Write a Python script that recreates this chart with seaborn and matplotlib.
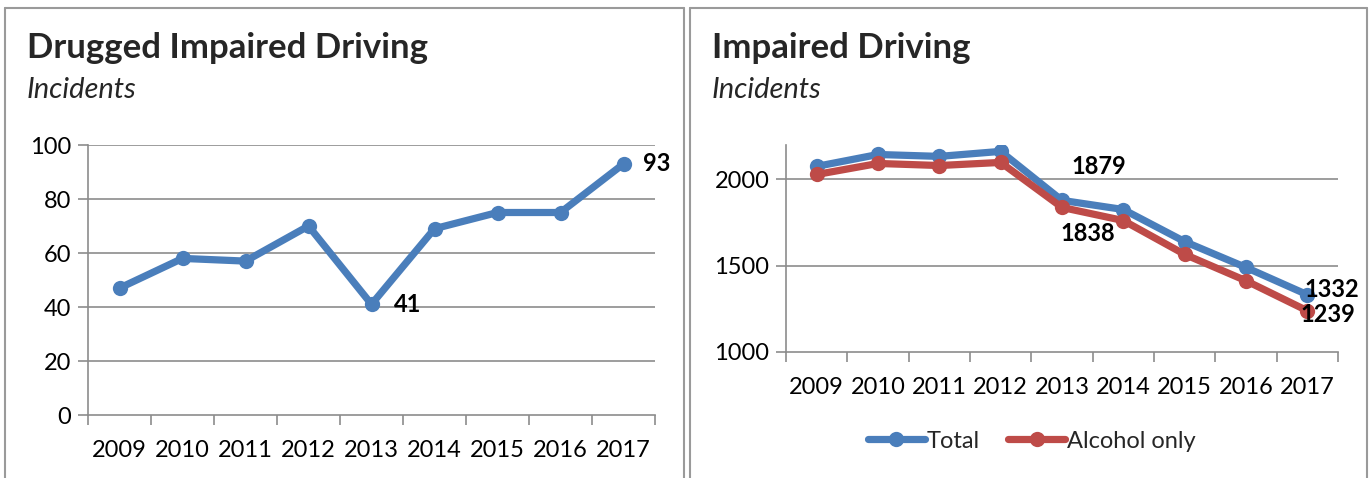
import matplotlib
matplotlib.use("Agg")
import matplotlib.pyplot as plt
import seaborn as sns
import pandas as pd
from matplotlib.lines import Line2D
from matplotlib.ticker import FixedLocator, NullFormatter

years = ["2009", "2010", "2011", "2012", "2013", "2014", "2015", "2016", "2017"]
drugged = [47, 58, 57, 70, 41, 69, 75, 75, 93]
total = [2076, 2145, 2134, 2163, 1879, 1826, 1640, 1490, 1332]
alcohol_only = [2029, 2093, 2081, 2099, 1838, 1762, 1566, 1413, 1239]

BLUE = "#4A7EBB"
RED = "#BE4B48"
GRID = "#8c8c8c"
FONT = ["Lato", "DejaVu Sans"]
TICK_FS = 17
LABEL_FS = 17

sns.set_theme(style="white")
plt.rcParams["font.family"] = FONT

W, H = 1371, 478
fig = plt.figure(figsize=(W / 100, H / 100), dpi=100)


def fx(px):
    return px / W


def fy(py):
    return 1 - py / H


# panel frames
for x0, x1 in [(5, 684), (690, 1367)]:
    for seg in [([x0, x0], [8, H + 5]), ([x1, x1], [8, H + 5]), ([x0, x1], [8, 8])]:
        fig.add_artist(Line2D([fx(v) for v in seg[0]], [fy(v) for v in seg[1]],
                              color="#9a9a9a", lw=1.5))

ax1 = fig.add_axes([fx(88), fy(415), fx(655) - fx(88), fy(145) - fy(415)])
ax2 = fig.add_axes([fx(786), fy(352), fx(1338) - fx(786), fy(145) - fy(352)])

df1 = pd.DataFrame({"Year": years, "Incidents": drugged})
df2 = pd.DataFrame({
    "Year": years * 2,
    "Incidents": total + alcohol_only,
    "Series": ["Total"] * len(years) + ["Alcohol only"] * len(years),
})

sns.lineplot(data=df1, x="Year", y="Incidents", ax=ax1, color=BLUE, lw=5.2,
             marker="o", markersize=11, markeredgewidth=0, sort=False)
sns.lineplot(data=df2, x="Year", y="Incidents", hue="Series", ax=ax2,
             palette={"Total": BLUE, "Alcohol only": RED}, lw=5.2,
             marker="o", markersize=11, markeredgewidth=0, sort=False)


def style_axis(ax, yticks, ylim):
    n = len(years)
    ax.set_xlim(-0.5, n - 0.5)
    ax.set_ylim(*ylim)
    ax.set_yticks(yticks)
    ax.set_xticks(range(n))
    ax.set_xticklabels(years)
    ax.xaxis.set_minor_locator(FixedLocator([i - 0.5 for i in range(n + 1)]))
    ax.xaxis.set_minor_formatter(NullFormatter())
    ax.tick_params(axis="x", which="major", length=0, pad=18, labelsize=TICK_FS)
    ax.tick_params(axis="x", which="minor", length=7, width=1.2, color=GRID,
                   direction="out", bottom=True)
    ax.tick_params(axis="y", length=7, width=1.2, color=GRID, direction="out",
                   left=True, labelsize=TICK_FS, pad=5)
    for t in ax.get_xticklabels() + ax.get_yticklabels():
        t.set_color("black")
    for s in ["top", "right"]:
        ax.spines[s].set_visible(False)
    for s in ["left", "bottom"]:
        ax.spines[s].set_color(GRID)
        ax.spines[s].set_linewidth(1.2)
    for v in yticks[1:]:
        ax.axhline(v, color=GRID, lw=1.2, zorder=0)
    ax.set_xlabel("")
    ax.set_ylabel("")


style_axis(ax1, [0, 20, 40, 60, 80, 100], (0, 100))
style_axis(ax2, [1000, 1500, 2000], (1000, 2200))

lab = dict(fontsize=LABEL_FS, fontweight="bold", color="black")
ax1.annotate(f"{drugged[8]}", (8, drugged[8]), xytext=(14, 0),
             textcoords="offset points", va="center", ha="left", clip_on=False, **lab)
ax1.annotate(f"{drugged[4]}", (4, drugged[4]), xytext=(16, 0),
             textcoords="offset points", va="center", ha="left", **lab)
ax2.annotate(f"{total[4]}", (4, total[4]), xytext=(7, 16),
             textcoords="offset points", va="bottom", ha="left", **lab)
ax2.annotate(f"{alcohol_only[4]}", (4, alcohol_only[4]), xytext=(-1, -19),
             textcoords="offset points", va="center", ha="left", **lab)
ax2.annotate(f"{total[8]}", (8, total[8]), xytext=(-2, 4),
             textcoords="offset points", va="center", ha="left", clip_on=False, **lab)
ax2.annotate(f"{alcohol_only[8]}", (8, alcohol_only[8]), xytext=(-5, -3),
             textcoords="offset points", va="center", ha="left", clip_on=False, **lab)

# titles
fig.text(fx(27), fy(48), "Drugged Impaired Driving", fontsize=25, fontweight="bold",
         va="center", ha="left")
fig.text(fx(27), fy(90), "Incidents", fontsize=21, style="italic", va="center", ha="left")
fig.text(fx(712), fy(48), "Impaired Driving", fontsize=25, fontweight="bold",
         va="center", ha="left")
fig.text(fx(712), fy(90), "Incidents", fontsize=21, style="italic", va="center", ha="left")

handles, labels = ax2.get_legend_handles_labels()
ax2.legend(handles, labels, loc="center", bbox_to_anchor=(fx(1032), fy(441)),
           bbox_transform=fig.transFigure, ncol=2, frameon=False, fontsize=17,
           handlelength=2.4, handletextpad=0.1, columnspacing=1.2)

fig.savefig("out.png", dpi=100)
